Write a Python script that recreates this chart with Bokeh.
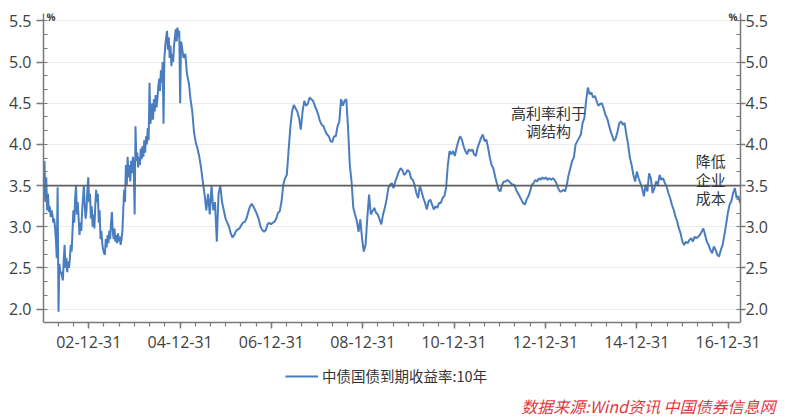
import pandas as pd
from bokeh.plotting import figure
from bokeh.layouts import column
from bokeh.models import (Range1d, FixedTicker, LinearAxis, Span, Label, Legend,
                          LegendItem, DatetimeTickFormatter, NumeralTickFormatter,
                          ColumnDataSource)
from bokeh.embed import file_html
from bokeh.resources import INLINE

# ---------------- data ----------------
series_name = "中债国债到期收益率:10年"
source_note = "数据来源:Wind资讯 中国债券信息网"

# weekly readings 2002-01-04 .. early 2005 (noisy period)
weekly_start = "2002-01-04"
weekly_yield = [
    3.35, 3.80, 3.30, 3.60, 3.20, 3.40, 3.18, 3.25, 3.12, 3.20,
    3.15, 3.05, 3.10, 3.00, 2.85, 2.62, 3.48, 1.97, 2.55, 2.45,
    2.45, 2.40, 2.35, 2.60, 2.78, 2.50, 2.62, 2.45, 2.58, 2.50,
    2.62, 2.78, 2.70, 2.95, 3.20, 3.05, 3.35, 3.50, 3.15, 3.30,
    3.10, 2.90, 3.05, 2.95, 3.20, 3.35, 3.50, 3.25, 3.10, 3.20,
    3.45, 3.60, 3.30, 3.40, 3.10, 3.25, 3.00, 3.15, 2.98, 3.25,
    3.45, 3.30, 3.40, 3.05, 3.20, 2.85, 2.95, 2.80, 2.72, 2.68,
    2.66, 2.85, 2.75, 2.90, 2.80, 2.95, 2.85, 3.05, 3.18, 2.95,
    2.85, 2.98, 2.82, 2.90, 2.80, 2.92, 2.82, 2.88, 2.78, 2.85,
    2.95, 3.20, 3.45, 3.30, 3.75, 3.50, 3.85, 3.60, 3.75, 3.55,
    3.80, 3.65, 3.85, 3.70, 3.15, 4.22, 3.80, 3.90, 3.72, 3.85,
    3.75, 3.95, 3.82, 3.98, 3.85, 4.05, 3.90, 4.10, 4.00, 4.20,
    4.05, 4.75, 4.25, 4.35, 4.50, 4.30, 4.55, 4.40, 4.60, 4.45,
    4.55, 4.70, 4.80, 4.65, 4.90, 4.75, 5.00, 4.25, 5.05, 5.20,
    5.30, 5.38, 5.15, 5.30, 5.05, 5.20, 4.95, 5.10, 5.00, 5.20,
    5.30, 5.40, 5.25, 5.42, 5.30, 5.38, 4.50, 5.25,
]

# bi-weekly readings 2005-01-13 .. 2017-03
biweekly_start = "2005-01-13"
biweekly_yield = [
    5.20, 5.05, 5.10, 4.85, 4.75, 4.55, 4.40, 4.15, 4.02, 3.95,
    3.85, 3.72, 3.55, 3.40, 3.20, 3.40, 3.15, 3.50, 3.20, 3.30,
    2.82, 3.40, 3.50, 3.30, 3.20, 3.10, 3.05, 3.00, 2.92, 2.87,
    2.90, 2.95, 2.97, 2.98, 3.02, 3.05, 3.06, 3.10, 3.18, 3.25,
    3.28, 3.24, 3.20, 3.15, 3.09, 3.00, 2.96, 2.94, 2.96, 3.03,
    3.05, 3.03, 3.05, 3.06, 3.10, 3.17, 3.19, 3.31, 3.51, 3.59,
    3.63, 3.92, 4.20, 4.40, 4.48, 4.44, 4.40, 4.32, 4.18, 4.40,
    4.53, 4.47, 4.49, 4.57, 4.55, 4.53, 4.47, 4.42, 4.36, 4.28,
    4.24, 4.22, 4.16, 4.12, 4.10, 4.04, 4.03, 4.10, 4.10, 4.22,
    4.28, 4.55, 4.47, 4.53, 4.55, 4.20, 3.75, 3.55, 3.23, 3.15,
    3.07, 2.94, 3.09, 2.86, 2.70, 2.78, 3.11, 3.39, 3.15, 3.19,
    3.23, 3.17, 3.15, 3.09, 3.03, 3.15, 3.23, 3.33, 3.47, 3.51,
    3.53, 3.47, 3.55, 3.61, 3.67, 3.71, 3.69, 3.63, 3.65, 3.69,
    3.67, 3.59, 3.57, 3.51, 3.41, 3.35, 3.49, 3.43, 3.35, 3.29,
    3.21, 3.31, 3.33, 3.27, 3.21, 3.25, 3.23, 3.29, 3.29, 3.35,
    3.37, 3.47, 3.75, 3.92, 3.88, 3.92, 3.86, 3.96, 4.04, 4.10,
    4.06, 3.98, 3.92, 3.88, 3.94, 3.92, 3.94, 3.88, 3.86, 3.96,
    4.02, 4.08, 4.12, 4.04, 4.06, 3.96, 3.84, 3.75, 3.71, 3.61,
    3.53, 3.45, 3.43, 3.51, 3.55, 3.55, 3.57, 3.55, 3.53, 3.51,
    3.51, 3.45, 3.41, 3.37, 3.33, 3.29, 3.27, 3.33, 3.37, 3.43,
    3.51, 3.53, 3.57, 3.55, 3.59, 3.57, 3.60, 3.58, 3.60, 3.57,
    3.59, 3.57, 3.59, 3.57, 3.53, 3.47, 3.43, 3.43, 3.45, 3.43,
    3.51, 3.63, 3.71, 3.80, 3.84, 4.00, 4.04, 4.08, 4.12, 4.26,
    4.32, 4.53, 4.69, 4.61, 4.63, 4.57, 4.59, 4.53, 4.47, 4.49,
    4.50, 4.44, 4.36, 4.32, 4.24, 4.16, 4.10, 4.04, 4.08, 4.16,
    4.26, 4.28, 4.24, 4.26, 4.12, 4.00, 3.84, 3.75, 3.63, 3.55,
    3.67, 3.59, 3.53, 3.47, 3.37, 3.51, 3.43, 3.65, 3.59, 3.41,
    3.47, 3.55, 3.51, 3.63, 3.57, 3.59, 3.53, 3.49, 3.41, 3.35,
    3.27, 3.21, 3.13, 3.07, 2.98, 2.92, 2.82, 2.78, 2.82, 2.80,
    2.84, 2.86, 2.82, 2.88, 2.86, 2.88, 2.90, 2.94, 2.98, 2.90,
    2.82, 2.78, 2.72, 2.68, 2.76, 2.72, 2.66, 2.64, 2.72, 2.78,
    2.90, 3.03, 3.17, 3.27, 3.31, 3.41, 3.47, 3.35, 3.37, 3.29,
]

reference_level = 3.5

x_tick_dates = ["2002-12-31", "2004-12-31", "2006-12-31", "2008-12-31",
                "2010-12-31", "2012-12-31", "2014-12-31", "2016-12-31"]
y_ticks = [2.0, 2.5, 3.0, 3.5, 4.0, 4.5, 5.0, 5.5]

note_texts = ["高利率利于", "调结构", "降低", "企业", "成本"]
note_dates = ["2013-01-24", "2013-01-24", "2016-08-15", "2016-08-15", "2016-08-15"]
note_values = [4.39, 4.175, 3.81, 3.58, 3.355]

# ---------------- build ----------------
dates = pd.date_range(weekly_start, periods=len(weekly_yield), freq="7D").append(
    pd.date_range(biweekly_start, periods=len(biweekly_yield), freq="14D"))
src = ColumnDataSource(dict(date=dates, yld=weekly_yield + biweekly_yield))


def ms(d):
    return pd.Timestamp(d).value // 10**6


major_x = [ms(d) for d in x_tick_dates]
minor_x = []
for yr in range(2002, 2018):
    for md in ("04-30", "08-31", "12-31"):
        minor_x.append(ms(f"{yr}-{md}"))
y_minor = [round(1.8333 + k / 6.0, 4) for k in range(0, 23)]

LINE_COLOR = "#4a7dbf"
W = 788
H_MAIN = 358
H_FOOT = 60

p = figure(width=W, height=H_MAIN, x_axis_type="datetime",
           x_range=Range1d(start=pd.Timestamp("2002-01-03"), end=pd.Timestamp("2017-04-09")),
           y_range=Range1d(1.838, 5.59),
           output_backend="svg", toolbar_location=None,
           min_border_left=43, min_border_right=48, min_border_top=13,
           min_border_bottom=H_MAIN - 322)
p.frame_align = False
p.outline_line_color = None
p.background_fill_color = "white"
p.border_fill_color = "white"

line_r = p.line(x="date", y="yld", source=src, line_color=LINE_COLOR, line_width=2)

p.add_layout(Span(location=reference_level, dimension="width",
                  line_color="#5f5f5f", line_width=1.6))

axis_col = "#7a7a7a"
tick_font = "Open Sans"

xa = p.xaxis[0]
xa.ticker = FixedTicker(ticks=major_x, minor_ticks=minor_x)
fmt = "%y-%m-%d"
xa.formatter = DatetimeTickFormatter(
    microseconds=fmt, milliseconds=fmt, seconds=fmt, minsec=fmt, minutes=fmt,
    hourmin=fmt, hours=fmt, days=fmt, months=fmt, years=fmt,
    strip_leading_zeros=False)

ya = p.yaxis[0]
ya.ticker = FixedTicker(ticks=y_ticks, minor_ticks=y_minor)
ya.formatter = NumeralTickFormatter(format="0.0")

ra = LinearAxis(ticker=FixedTicker(ticks=y_ticks, minor_ticks=y_minor),
                formatter=NumeralTickFormatter(format="0.0"))
p.add_layout(ra, "right")

for ax in (xa, ya, ra):
    ax.axis_line_color = axis_col
    ax.axis_line_width = 1.5
    ax.major_tick_line_color = axis_col
    ax.major_tick_line_width = 1.5
    ax.minor_tick_line_color = axis_col
    ax.minor_tick_line_width = 1.2
    ax.major_label_text_font = tick_font
    ax.major_label_text_font_size = "16px"
    ax.major_label_text_color = "#404040"
    ax.major_tick_in = 0

xa.major_tick_out = 6
xa.minor_tick_out = 4
xa.minor_tick_in = 0
xa.major_label_standoff = 7
for ax in (ya, ra):
    ax.minor_tick_out = 0
    ax.minor_tick_in = 4
ya.major_tick_out = 7
ya.major_label_standoff = 5
ra.major_tick_out = 5
ra.major_label_standoff = 0

p.xgrid.visible = False
p.ygrid.grid_line_color = "#ededed"
p.ygrid.grid_line_width = 1

cjk = "Noto Sans CJK SC"
for t, d, v in zip(note_texts, note_dates, note_values):
    p.add_layout(Label(x=pd.Timestamp(d), y=v, text=t, text_align="center",
                       text_baseline="middle", text_font=cjk, text_font_size="15px",
                       text_color="#333333"))

# percent markers at axis tops
p.add_layout(Label(x=3, y=306, x_units="screen", y_units="screen", text="%",
                   text_font=tick_font, text_font_size="10px", text_font_style="bold",
                   text_color="#404040", text_baseline="middle", text_align="left"))
p.add_layout(Label(x=694, y=306, x_units="screen", y_units="screen", text="%",
                   text_font=tick_font, text_font_size="10px", text_font_style="bold",
                   text_color="#404040", text_baseline="middle", text_align="right"))

# ---------------- footer: legend + source ----------------
f = figure(width=W, height=H_FOOT, x_range=Range1d(0, 1), y_range=Range1d(0, 1),
           x_axis_location=None, y_axis_location=None,
           output_backend="svg", toolbar_location=None, min_border=0)
f.frame_align = False
f.outline_line_color = None
f.xgrid.visible = False
f.ygrid.visible = False
# legend key renderer (kept outside the visible range; only its style is used)
key_r = f.line(x=[5, 6], y=[5, 5], line_color=LINE_COLOR, line_width=2)

legend = Legend(items=[LegendItem(label=series_name, renderers=[key_r])],
                location=(285, H_FOOT - 20 - 8), orientation="horizontal",
                glyph_width=33, glyph_height=16, label_height=16, label_standoff=4,
                padding=0, margin=0, spacing=0, border_line_color=None,
                background_fill_alpha=0, label_text_font=cjk,
                label_text_font_size="14.5px", label_text_color="#333333")
f.add_layout(legend)

f.add_layout(Label(x=775, y=H_FOOT - 47, x_units="screen", y_units="screen",
                   text=source_note, text_align="right", text_baseline="middle",
                   text_font=cjk, text_font_size="16px", text_font_style="italic",
                   text_color="#e0393e"))

layout = column(p, f, spacing=0)
open("out.html", "w").write(file_html(layout, INLINE))
